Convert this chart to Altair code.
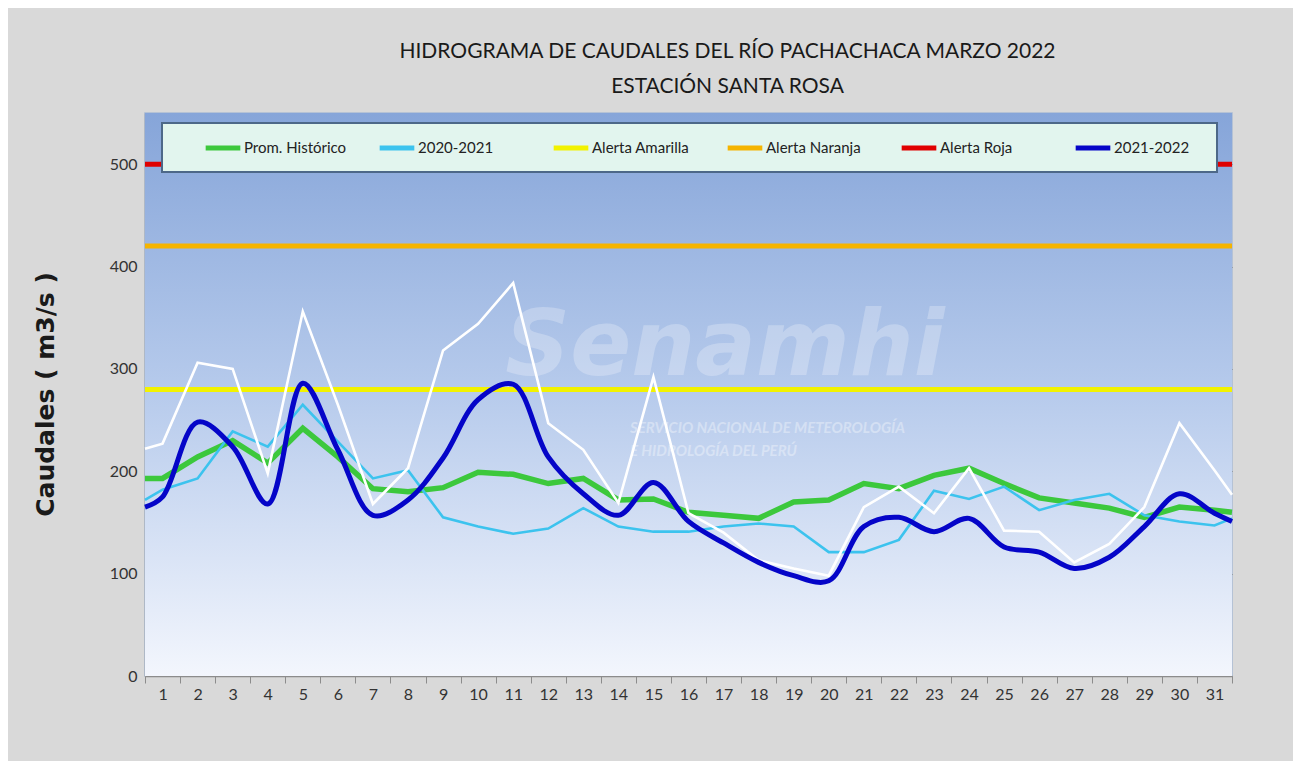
import altair as alt
import pandas as pd

# ---------------- data ----------------
dias = list(range(1, 32))
prom_historico = [193, 214, 230, 208, 242, 214, 183, 180, 184, 199, 197, 188, 193, 172, 173, 160,
                  157, 154, 170, 172, 188, 183, 196, 203, 188, 174, 169, 164, 155, 165, 162]
anio_2020_2021 = [182, 193, 239, 224, 265, 229, 193, 201, 155, 146, 139, 144, 164, 146, 141, 141,
                  146, 149, 146, 121, 121, 133, 181, 173, 185, 162, 172, 178, 157, 151, 147]
anio_2021_2022 = [175, 248, 224, 168, 286, 221, 157, 172, 213, 270, 285, 214, 178, 157, 189, 151,
                  130, 111, 98, 93, 146, 155, 141, 154, 126, 121, 105, 116, 146, 178, 159]
serie_blanca = [227, 306, 300, 198, 356, 265, 168, 203, 318, 344, 384, 247, 221, 169, 292, 159,
                140, 113, 105, 98, 165, 185, 159, 203, 142, 141, 111, 129, 165, 247, 201]
# values where each line meets the left / right border of the plot area
borde_izq = {"Prom. Histórico": 193, "2020-2021": 172, "2021-2022": 165, "Otra": 222}
borde_der = {"Prom. Histórico": 160, "2020-2021": 154, "2021-2022": 151, "Otra": 177}
alertas = {"Alerta Amarilla": 280, "Alerta Naranja": 420, "Alerta Roja": 500}

series_orden = ["Prom. Histórico", "2020-2021", "Alerta Amarilla", "Alerta Naranja", "Alerta Roja", "2021-2022"]
series_color = ["#3cc83c", "#3cc3ee", "#f2f200", "#f5b400", "#e00000", "#0505c8"]

x_min, x_max = 0.5, 31.5
y_ticks = [0, 100, 200, 300, 400, 500]
x_tick_vals = [d - 0.5 for d in dias] + dias + [x_max]

# ---------------- build table ----------------
rows = []
for nombre, vals in [("Prom. Histórico", prom_historico), ("2020-2021", anio_2020_2021),
                     ("2021-2022", anio_2021_2022), ("Otra", serie_blanca)]:
    rows.append({"dia": x_min, "valor": borde_izq[nombre], "serie": nombre})
    for d, v in zip(dias, vals):
        rows.append({"dia": d, "valor": v, "serie": nombre})
    rows.append({"dia": x_max, "valor": borde_der[nombre], "serie": nombre})
for nombre, v in alertas.items():
    rows.append({"dia": x_min, "valor": v, "serie": nombre})
    rows.append({"dia": x_max, "valor": v, "serie": nombre})
df = pd.DataFrame(rows)

W, H = 1087, 563
FONT = "Lato"

xscale = alt.Scale(domain=[x_min, x_max], nice=False, zero=False)
yscale = alt.Scale(domain=[0, 550], nice=False)
cscale = alt.Scale(domain=series_orden, range=series_color)

x_enc = alt.X("dia:Q", scale=xscale, axis=alt.Axis(
    values=x_tick_vals, title=None, grid=False,
    labelExpr="datum.value % 1 == 0 ? format(datum.value, 'd') : ''",
    tickOpacity={"condition": {"test": "datum.value % 1 == 0", "value": 0}, "value": 1},
    labelOverlap=False, labelFlush=False, labelFont=FONT, labelFontSize=16,
    labelColor="#333333", labelPadding=3, tickSize=7, tickColor="#8c8c8c",
    domainColor="#8c8c8c", domainWidth=1.5))
y_enc = alt.Y("valor:Q", scale=yscale, axis=alt.Axis(
    values=y_ticks, grid=True, gridColor="#7a7a7a", gridWidth=1.2, ticks=False,
    labelFont=FONT, labelFontSize=16, labelColor="#333333", labelPadding=8,
    domainColor="#9a9a9a", domainWidth=1.5,
    title="Caudales ( m3/s )", titleFont="DejaVu Sans", titleFontSize=25,
    titleFontWeight="bold", titleColor="#1a1a1a", titleAngle=270,
    titleX=-100, titleY=281, titleAlign="center", titleBaseline="middle"))

legend = alt.Legend(title=None, orient="none", legendX=58, legendY=15, direction="horizontal",
                    columns=6, gridAlign="all", columnPadding=22, symbolType="stroke",
                    symbolSize=1200, symbolStrokeWidth=5, labelFont=FONT, labelFontSize=15,
                    labelColor="#222222", labelOffset=1, padding=0)
c_enc = alt.Color("serie:N", scale=cscale, legend=legend, sort=series_orden)

base = alt.Chart(df)

# background gradient of the plot area
fondo = alt.Chart(pd.DataFrame({"k": [0]})).mark_rect(
    color=alt.Gradient(gradient="linear", x1=0, x2=0, y1=0, y2=1,
                       stops=[alt.GradientStop(color="#86a5d9", offset=0),
                              alt.GradientStop(color="#b7cbec", offset=0.5),
                              alt.GradientStop(color="#f3f6fd", offset=1)])
).encode(x=alt.value(0), x2=alt.value(W), y=alt.value(0), y2=alt.value(H))

marca = alt.Chart(pd.DataFrame({"t": ["Senamhi"]})).mark_text(
    font="DejaVu Sans", fontSize=90, fontStyle="italic", fontWeight="bold",
    color="white", opacity=0.25, align="center", baseline="alphabetic"
).encode(text="t:N", x=alt.value(580), y=alt.value(262))
marca2 = alt.Chart(pd.DataFrame({"t": ["SERVICIO NACIONAL DE METEOROLOGÍA"]})).mark_text(
    font=FONT, fontSize=15, fontStyle="italic", fontWeight="bold",
    color="white", opacity=0.35, align="left", baseline="alphabetic"
).encode(text="t:N", x=alt.value(485), y=alt.value(320))
marca3 = alt.Chart(pd.DataFrame({"t": ["E HIDROLOGÍA DEL PERÚ"]})).mark_text(
    font=FONT, fontSize=15, fontStyle="italic", fontWeight="bold",
    color="white", opacity=0.35, align="left", baseline="alphabetic"
).encode(text="t:N", x=alt.value(485), y=alt.value(343))

alerta_lines = base.transform_filter(
    alt.FieldOneOfPredicate(field="serie", oneOf=list(alertas.keys()))
).mark_line(strokeWidth=5).encode(x=x_enc, y=y_enc, color=c_enc)

def serie_layer(nombre, width, interp="linear"):
    return base.transform_filter(alt.datum.serie == nombre).mark_line(
        strokeWidth=width, interpolate=interp).encode(x=x_enc, y=y_enc, color=c_enc)

verde = serie_layer("Prom. Histórico", 5.5)
cian = serie_layer("2020-2021", 2.6)
blanca = base.transform_filter(alt.datum.serie == "Otra").mark_line(
    strokeWidth=2.6, color="white").encode(x=x_enc, y=y_enc)
azul = serie_layer("2021-2022", 5, "catmull-rom")

caja = alt.Chart(pd.DataFrame({"k": [0]})).mark_rect(
    color="#e2f5ee", stroke="#4d6888", strokeWidth=2
).encode(x=alt.value(17), x2=alt.value(1072), y=alt.value(10), y2=alt.value(59))

chart = alt.layer(fondo, marca, marca2, marca3, alerta_lines, verde, cian, blanca, azul, caja).properties(
    width=W, height=H,
    autosize=alt.AutoSizeParams(type="none"),
    padding={"left": 137, "top": 105, "right": 61, "bottom": 85},
    background="#d9d9d9",
    title=alt.TitleParams(
        text=["HIDROGRAMA DE CAUDALES DEL RÍO PACHACHACA MARZO  2022", "ESTACIÓN SANTA ROSA"],
        font=FONT, fontSize=21, fontWeight="normal", color="#1a1a1a",
        anchor="middle", dx=39, offset=16, lineHeight=35)
).configure_view(stroke="#a9bad4", strokeWidth=1.5)

chart.save("out.html", embed_options={"renderer": "svg", "actions": False})
